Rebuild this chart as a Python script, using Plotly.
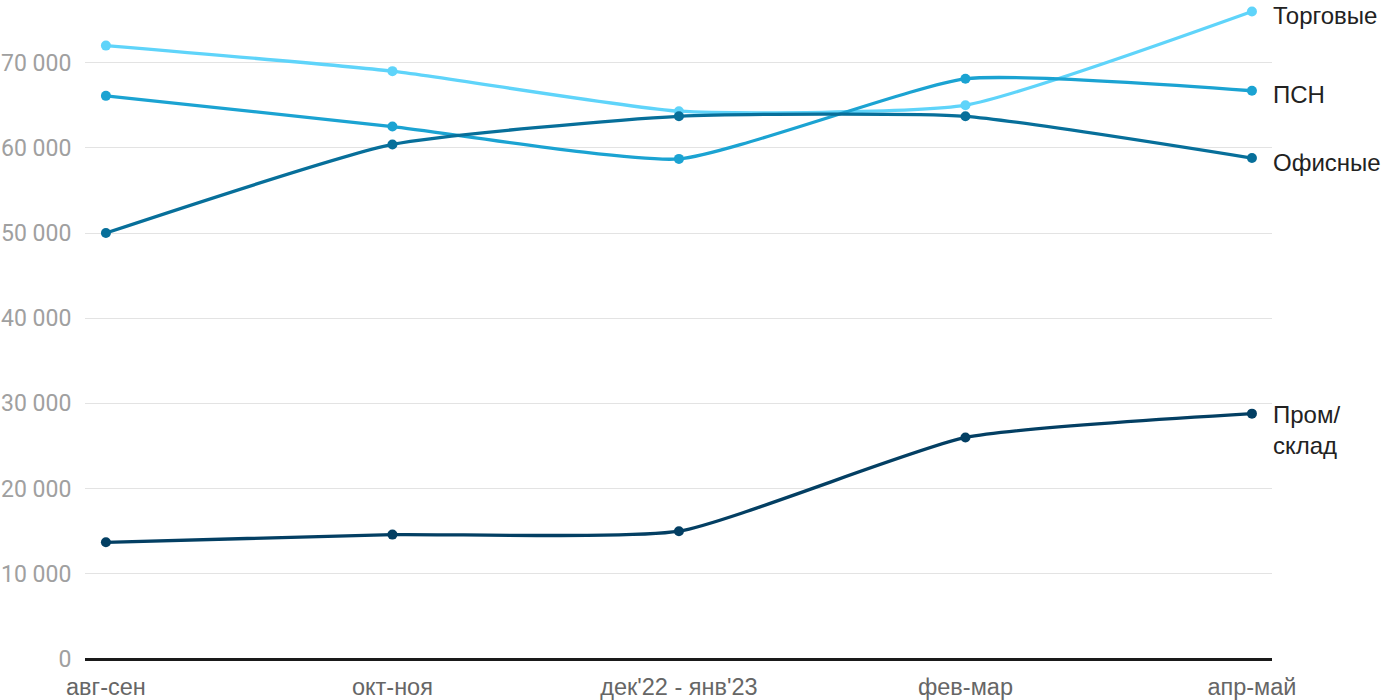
import plotly.graph_objects as go

categories = ["авг-сен", "окт-ноя", "дек'22 - янв'23", "фев-мар", "апр-май"]
series_names = ["Торговые", "ПСН", "Офисные", "Пром/<br>склад"]
torgovye = [72000, 69000, 64300, 65000, 76000]
psn = [66100, 62500, 58700, 68100, 66700]
ofisnye = [50000, 60400, 63700, 63700, 58800]
prom_sklad = [13700, 14600, 15000, 26000, 28800]
y_ticks = [0, 10000, 20000, 30000, 40000, 50000, 60000, 70000]

colors = ["#5fd4fa", "#1ba3d2", "#076f9a", "#033f63"]
values = [torgovye, psn, ofisnye, prom_sklad]
xs = list(range(len(categories)))

fig = go.Figure()
for name, vals, col in zip(series_names, values, colors):
    fig.add_trace(go.Scatter(
        x=xs, y=vals, mode="lines+markers", name=name,
        line=dict(color=col, width=3.3, shape="spline", smoothing=0.5),
        marker=dict(color=col, size=10),
        cliponaxis=False, showlegend=False,
    ))
    two = "<br>" in name
    fig.add_annotation(
        x=xs[-1], y=vals[-1], text=name, showarrow=False,
        xanchor="left", yanchor="middle", xshift=19, yshift=-4 if not two else -16,
        align="left",
        font=dict(family="Liberation Sans, Arial, sans-serif", size=24, color="#222222"),
    )

fig.update_layout(
    width=1400, height=700,
    margin=dict(l=85, r=128, t=3, b=41),
    paper_bgcolor="white", plot_bgcolor="white",
    separators=", ",
    xaxis=dict(
        range=[-0.073, 4.07], tickvals=xs, ticktext=categories,
        showgrid=False, zeroline=False, showline=False, automargin=False,
        ticks="outside", ticklen=7, tickcolor="rgba(0,0,0,0)",
        tickfont=dict(family="Liberation Sans, Arial, sans-serif", size=23.5, color="#666666"),
        fixedrange=True,
    ),
    yaxis=dict(
        range=[0, 77000], tickvals=y_ticks, tickformat=",d", automargin=False,
        showgrid=True, gridcolor="#e3e3e3", gridwidth=1,
        zeroline=True, zerolinecolor="#1a1a1a", zerolinewidth=2.5,
        showline=False,
        ticks="outside", ticklen=8, tickcolor="rgba(0,0,0,0)",
        tickfont=dict(family="Roboto, sans-serif", size=23, color="#a0a0a0"),
    ),
)

fig.write_html(
    "out.html",
    config={"displayModeBar": False},
    post_script="document.body.style.margin='0';document.body.style.overflow='hidden';",
)
